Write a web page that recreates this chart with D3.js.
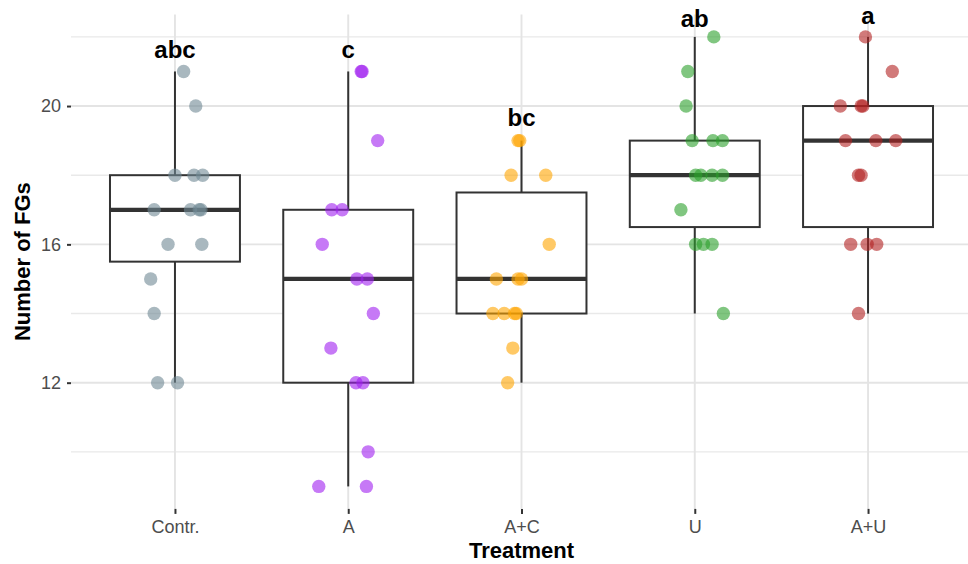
<!DOCTYPE html>
<html>
<head>
<meta charset="utf-8">
<script src="https://cdn.jsdelivr.net/npm/d3@7"></script>
<style>
  html, body { margin: 0; padding: 0; background: #fff; }
  svg { display: block; font-family: Arial, "Liberation Sans", Helvetica, sans-serif; }
</style>
</head>
<body>
<svg id="chart" width="968" height="564"></svg>
<script>
// Treatment groups and their colours
const categories = ["Contr.", "A", "A+C", "U", "A+U"];
const colors = ["#708894", "#a020f0", "#ffa500", "#2ca02c", "#b22222"];

// Number of FGs per replicate, one list per treatment
const valContr = [21, 20, 18, 18, 18, 17, 17, 17, 17, 16, 16, 15, 14, 12, 12];
const valA     = [21, 21, 19, 17, 17, 16, 15, 15, 14, 13, 12, 12, 10, 9, 9];
const valAC    = [19, 19, 18, 18, 16, 15, 15, 15, 14, 14, 14, 14, 13, 12];
const valU     = [22, 21, 20, 19, 19, 19, 18, 18, 18, 18, 17, 16, 16, 16, 14];
const valAU    = [22, 21, 20, 20, 20, 19, 19, 19, 18, 18, 16, 16, 16, 14];

// Horizontal jitter offsets (in category-step units) for each point
const jitContr = [0.05, 0.12, 0.0, 0.11, 0.16, -0.12, 0.09, 0.14, 0.15, -0.04, 0.155, -0.14, -0.12, -0.10, 0.015];
const jitA     = [0.08, 0.075, 0.17, -0.095, -0.035, -0.15, 0.05, 0.11, 0.145, -0.10, 0.045, 0.085, 0.115, -0.17, 0.105];
const jitAC    = [-0.02, -0.01, -0.06, 0.14, 0.16, -0.145, -0.02, 0.0, -0.165, -0.10, -0.04, -0.03, -0.05, -0.08];
const jitU     = [0.11, -0.04, -0.05, -0.015, 0.105, 0.16, 0.005, 0.035, 0.10, 0.16, -0.08, 0.005, 0.05, 0.10, 0.165];
const jitAU    = [-0.015, 0.14, -0.16, -0.04, -0.03, -0.13, 0.045, 0.16, -0.055, -0.04, -0.10, -0.005, 0.05, -0.055];

// Significance letters and the value each sits at
const sigLetters = ["abc", "c", "bc", "ab", "a"];
const sigY = [21.4, 21.4, 19.42, 22.29, 22.38];

const yTicks = [12, 16, 20];
const yMinor = [10, 14, 18, 22];

const groups = [valContr, valA, valAC, valU, valAU];
const jitters = [jitContr, jitA, jitAC, jitU, jitAU];

const svg = d3.select("#chart");
const panel = { left: 71, right: 972, top: 14.4, bottom: 508.9 };

const x = d3.scalePoint().domain(categories).range([panel.left, panel.right]).padding(0.6);
const step = x.step();
const y = d3.scaleLinear().domain([8.35, 22.65]).range([panel.bottom, panel.top]);

// grid
const grid = svg.append("g");
grid.selectAll("line.minor").data(yMinor).join("line")
  .attr("x1", panel.left).attr("x2", panel.right)
  .attr("y1", d => y(d)).attr("y2", d => y(d))
  .attr("stroke", "#e9e9e9").attr("stroke-width", 1.4);
grid.selectAll("line.major").data(yTicks).join("line")
  .attr("x1", panel.left).attr("x2", panel.right)
  .attr("y1", d => y(d)).attr("y2", d => y(d))
  .attr("stroke", "#e4e4e4").attr("stroke-width", 1.9);
grid.selectAll("line.vert").data(categories).join("line")
  .attr("x1", d => x(d)).attr("x2", d => x(d))
  .attr("y1", panel.top).attr("y2", panel.bottom)
  .attr("stroke", "#e4e4e4").attr("stroke-width", 1.9);

// box statistics (ggplot-style quantiles, 1.5 IQR whiskers)
function stats(vals) {
  const s = vals.slice().sort(d3.ascending);
  const q1 = d3.quantileSorted(s, 0.25), med = d3.quantileSorted(s, 0.5), q3 = d3.quantileSorted(s, 0.75);
  const iqr = q3 - q1;
  const lo = d3.min(s.filter(v => v >= q1 - 1.5 * iqr));
  const hi = d3.max(s.filter(v => v <= q3 + 1.5 * iqr));
  return { q1, med, q3, lo, hi };
}

const boxW = step * 0.75;
const boxes = svg.append("g");
categories.forEach((c, i) => {
  const st = stats(groups[i]);
  const cx = x(c);
  const g = boxes.append("g");
  g.append("line").attr("x1", cx).attr("x2", cx).attr("y1", y(st.hi)).attr("y2", y(st.q3))
    .attr("stroke", "#333").attr("stroke-width", 2);
  g.append("line").attr("x1", cx).attr("x2", cx).attr("y1", y(st.q1)).attr("y2", y(st.lo))
    .attr("stroke", "#333").attr("stroke-width", 2);
  g.append("rect").attr("x", cx - boxW / 2).attr("width", boxW)
    .attr("y", y(st.q3)).attr("height", y(st.q1) - y(st.q3))
    .attr("fill", "#fff").attr("stroke", "#333").attr("stroke-width", 2);
  g.append("line").attr("x1", cx - boxW / 2).attr("x2", cx + boxW / 2)
    .attr("y1", y(st.med)).attr("y2", y(st.med))
    .attr("stroke", "#333").attr("stroke-width", 4.2);
});

// jittered points
const pts = svg.append("g");
categories.forEach((c, i) => {
  pts.selectAll(null).data(groups[i]).join("circle")
    .attr("cx", (d, j) => x(c) + jitters[i][j] * step)
    .attr("cy", d => y(d))
    .attr("r", 6.7)
    .attr("fill", colors[i])
    .attr("fill-opacity", 0.6);
});

// significance letters
svg.append("g").selectAll("text").data(categories).join("text")
  .attr("x", d => x(d))
  .attr("y", (d, i) => y(sigY[i]))
  .attr("text-anchor", "middle")
  .attr("font-size", 24).attr("font-weight", "bold").attr("fill", "#000")
  .text((d, i) => sigLetters[i]);

// axes
const yAxis = svg.append("g").attr("transform", `translate(${panel.left},0)`)
  .call(d3.axisLeft(y).tickValues(yTicks).tickSize(4).tickPadding(6).tickFormat(d3.format("d")));
yAxis.select(".domain").remove();
yAxis.selectAll("line").attr("stroke", "#333").attr("stroke-width", 2);
yAxis.selectAll("text").attr("font-size", 18).attr("fill", "#4d4d4d").attr("font-family", "Arial, 'Liberation Sans', sans-serif");

const xAxis = svg.append("g").attr("transform", `translate(0,${panel.bottom})`)
  .call(d3.axisBottom(x).tickSize(5).tickPadding(6));
xAxis.select(".domain").remove();
xAxis.selectAll("line").attr("stroke", "#333").attr("stroke-width", 2);
xAxis.selectAll("text").attr("font-size", 18).attr("fill", "#4d4d4d").attr("font-family", "Arial, 'Liberation Sans', sans-serif");

// axis titles
svg.append("text")
  .attr("x", (panel.left + panel.right) / 2).attr("y", 558)
  .attr("text-anchor", "middle").attr("font-size", 22).attr("font-weight", "bold")
  .text("Treatment");
svg.append("text")
  .attr("transform", `translate(30,${(panel.top + panel.bottom) / 2}) rotate(-90)`)
  .attr("text-anchor", "middle").attr("font-size", 22).attr("font-weight", "bold")
  .text("Number of FGs");
</script>
</body>
</html>
